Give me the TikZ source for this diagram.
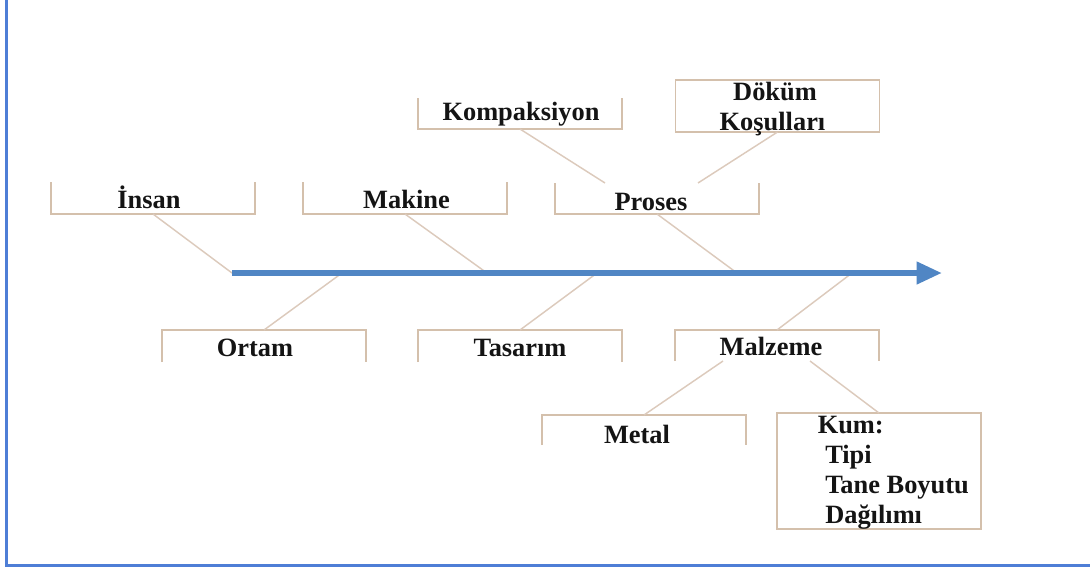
\documentclass[tikz,border=0pt]{standalone}
\usepackage{fontspec}
\setmainfont{Liberation Serif}
\usetikzlibrary{arrows.meta}
\definecolor{framec}{RGB}{78,126,214}
\definecolor{spinec}{RGB}{80,134,196}
\definecolor{boxc}{RGB}{212,192,172}
\definecolor{ribc}{RGB}{220,202,188}
\definecolor{txtc}{RGB}{20,20,20}
\begin{document}
\begin{tikzpicture}[x=0.75pt,y=-0.75pt,
  boxnode/.style={minimum width=153pt,minimum height=#1,inner sep=0pt,outer sep=0pt,draw=none},
  boxline/.style={draw=boxc,line width=1.1pt},
  ribline/.style={draw=ribc,line width=1.1pt},
  spineline/.style={draw=spinec,line width=4.5pt,-{Triangle[length=19pt,width=16pt]}},
  framel/.style={draw=framec,line width=1.9pt},
  lbl/.style={font=\bfseries\fontsize{19.8}{22.5}\selectfont,text=txtc,inner sep=0pt,anchor=base},
  lblw/.style={lbl,anchor=base west}]
\useasboundingbox (0,0) rectangle (1090,569);
% frame
\coordinate (ftop) at (6.5,0);
\coordinate (fcorner) at (6.5,565.5);
\coordinate (fright) at (1090,565.5);
\draw[framel] (ftop) -- (fcorner) -- (fright);

% boxes
\node[boxnode=24pt] (insan) at (153,198) {};
\node[boxnode=24pt] (makine) at (405,198) {};
\node[boxnode=23.25pt] (komp) at (520,113.5) {};
\node[boxnode=39pt] (dokum) at (777.5,106) {};
\node[boxnode=23.25pt] (proses) at (657,198.5) {};
\node[boxnode=24pt] (ortam) at (264,346) {};
\node[boxnode=24pt] (tasarim) at (520,346) {};
\node[boxnode=23.25pt] (malzeme) at (777,345.5) {};
\node[boxnode=22.5pt] (metal) at (644,430) {};
\node[boxnode=87pt] (kum) at (879,471) {};

% open-top boxes
\foreach \n in {insan,makine,komp,proses}
  \draw[boxline] (\n.north west) |- (\n.south east) -- (\n.north east);
% open-bottom boxes
\foreach \n in {ortam,tasarim,malzeme,metal}
  \draw[boxline] (\n.south west) |- (\n.north east) -- (\n.south east);
% closed boxes
\foreach \n in {dokum,kum}
  \draw[boxline] (\n.north west) rectangle (\n.south east);

% spine points
\coordinate (s0) at (232,273);
\coordinate (tip) at (942,273);
\coordinate (smak) at (487,273);
\coordinate (spro) at (737,273);
\coordinate (sort) at (342,273);
\coordinate (stas) at (597,273);
\coordinate (smal) at (852,273);
\coordinate (pk) at (605,183);
\coordinate (pd) at (698,183);
\coordinate (mm) at (723,361);
\coordinate (mk) at (810,361);

% ribs
\draw[ribline] (insan.south) -- (s0);
\draw[ribline] (makine.south) -- (smak);
\draw[ribline] (proses.south) -- (spro);
\draw[ribline] (komp.south) -- (pk);
\draw[ribline] (dokum.south) -- (pd);
\draw[ribline] (ortam.north) -- (sort);
\draw[ribline] (tasarim.north) -- (stas);
\draw[ribline] (malzeme.north) -- (smal);
\draw[ribline] (mm) -- (metal.north);
\draw[ribline] (mk) -- (kum.north);

% spine
\draw[spineline] (s0) -- (tip);

% labels
\node[lbl] (tinsan) at (149,208.5) {İnsan};
\node[lbl] (tmakine) at (406.5,208.5) {Makine};
\node[lbl] (tkomp) at (521,120.5) {Kompaksiyon};
\node[lbl] (tdokum1) at (775,100) {Döküm};
\node[lbl] (tdokum2) at (772.5,130) {Koşulları};
\node[lbl] (tproses) at (651,210) {Proses};
\node[lbl] (tortam) at (255,356) {Ortam};
\node[lbl] (ttasarim) at (520,356) {Tasarım};
\node[lbl] (tmalzeme) at (771,355) {Malzeme};
\node[lbl] (tmetal) at (637,443) {Metal};
\node[lblw] (tkum1) at (817.5,433) {Kum:};
\node[lblw] (tkum2) at (825,463) {Tipi};
\node[lblw] (tkum3) at (825,493) {Tane Boyutu};
\node[lblw] (tkum4) at (825,523) {Dağılımı};
\end{tikzpicture}
\end{document}
